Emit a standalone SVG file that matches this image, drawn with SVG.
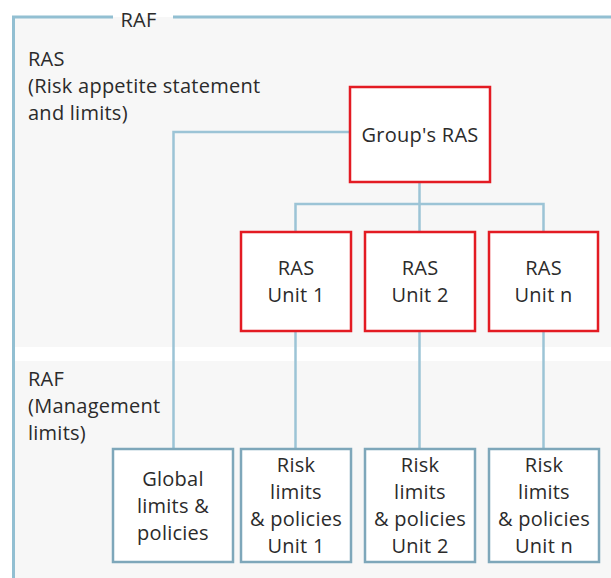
<svg xmlns="http://www.w3.org/2000/svg" width="611" height="578" viewBox="0 0 611 578">
  <style>
    text { font-family: "Open Sans", "Noto Sans", "Liberation Sans", sans-serif; font-size: 20px; letter-spacing: 0.25px; fill: #2b2b2b; }
    .c { text-anchor: middle; }
    .ras { fill: #ffffff; stroke: #e31b23; stroke-width: 2.5; }
    .lim { fill: #ffffff; stroke: #7ea7ba; stroke-width: 2.5; }
    .wire { fill: none; stroke: #9cc4d6; stroke-width: 2.5; }
    .frame { fill: none; stroke: #92bfd2; stroke-width: 3; }
  </style>
  <rect x="0" y="0" width="611" height="578" fill="#ffffff"/>
  <!-- shaded bands: RAS level and management-limits level -->
  <rect x="15" y="17" width="596" height="330" fill="#f7f7f7"/>
  <rect x="15" y="361" width="596" height="217" fill="#f7f7f7"/>

  <!-- RAF frame with its title in the top rule -->
  <g id="raf-frame">
    <path class="frame" d="M113 17 H13.5 V578"/>
    <path class="frame" d="M173 17 H611"/>
    <text x="138.5" y="27" class="c">RAF</text>
  </g>

  <g id="label-ras">
    <text x="28" y="66">RAS</text>
    <text x="28" y="93">(Risk appetite statement</text>
    <text x="28" y="120">and limits)</text>
  </g>
  <g id="label-raf">
    <text x="28" y="386">RAF</text>
    <text x="28" y="413">(Management</text>
    <text x="28" y="440">limits)</text>
  </g>

  <g id="connectors">
    <path class="wire" d="M350 132 H173.5 V449"/>
    <path class="wire" d="M419.5 182 V204"/>
    <path class="wire" d="M295.5 232 V204 H543.5 V232"/>
    <path class="wire" d="M419.5 204 V232"/>
    <path class="wire" d="M295.5 331 V449"/>
    <path class="wire" d="M419.5 331 V449"/>
    <path class="wire" d="M543.5 331 V449"/>
  </g>

  <g id="group-ras">
    <rect class="ras" x="350" y="87" width="140" height="95"/>
    <text x="420" y="142" class="c">Group's RAS</text>
  </g>

  <g id="ras-unit-1">
    <rect class="ras" x="241" y="232" width="110" height="99"/>
    <text x="296" y="275" class="c">RAS</text>
    <text x="296" y="302" class="c">Unit 1</text>
  </g>
  <g id="ras-unit-2">
    <rect class="ras" x="365" y="232" width="110" height="99"/>
    <text x="420" y="275" class="c">RAS</text>
    <text x="420" y="302" class="c">Unit 2</text>
  </g>
  <g id="ras-unit-n">
    <rect class="ras" x="489" y="232" width="109" height="99"/>
    <text x="543.5" y="275" class="c">RAS</text>
    <text x="543.5" y="302" class="c">Unit n</text>
  </g>

  <g id="global-limits">
    <rect class="lim" x="113" y="449" width="120" height="113"/>
    <text x="173" y="486" class="c">Global</text>
    <text x="173" y="513" class="c">limits &amp;</text>
    <text x="173" y="540" class="c">policies</text>
  </g>
  <g id="risk-limits-1">
    <rect class="lim" x="241" y="449" width="110" height="113"/>
    <text x="296" y="472" class="c">Risk</text>
    <text x="296" y="499" class="c">limits</text>
    <text x="296" y="526" class="c">&amp; policies</text>
    <text x="296" y="553" class="c">Unit 1</text>
  </g>
  <g id="risk-limits-2">
    <rect class="lim" x="365" y="449" width="110" height="113"/>
    <text x="420" y="472" class="c">Risk</text>
    <text x="420" y="499" class="c">limits</text>
    <text x="420" y="526" class="c">&amp; policies</text>
    <text x="420" y="553" class="c">Unit 2</text>
  </g>
  <g id="risk-limits-n">
    <rect class="lim" x="489" y="449" width="110" height="113"/>
    <text x="544" y="472" class="c">Risk</text>
    <text x="544" y="499" class="c">limits</text>
    <text x="544" y="526" class="c">&amp; policies</text>
    <text x="544" y="553" class="c">Unit n</text>
  </g>
</svg>
